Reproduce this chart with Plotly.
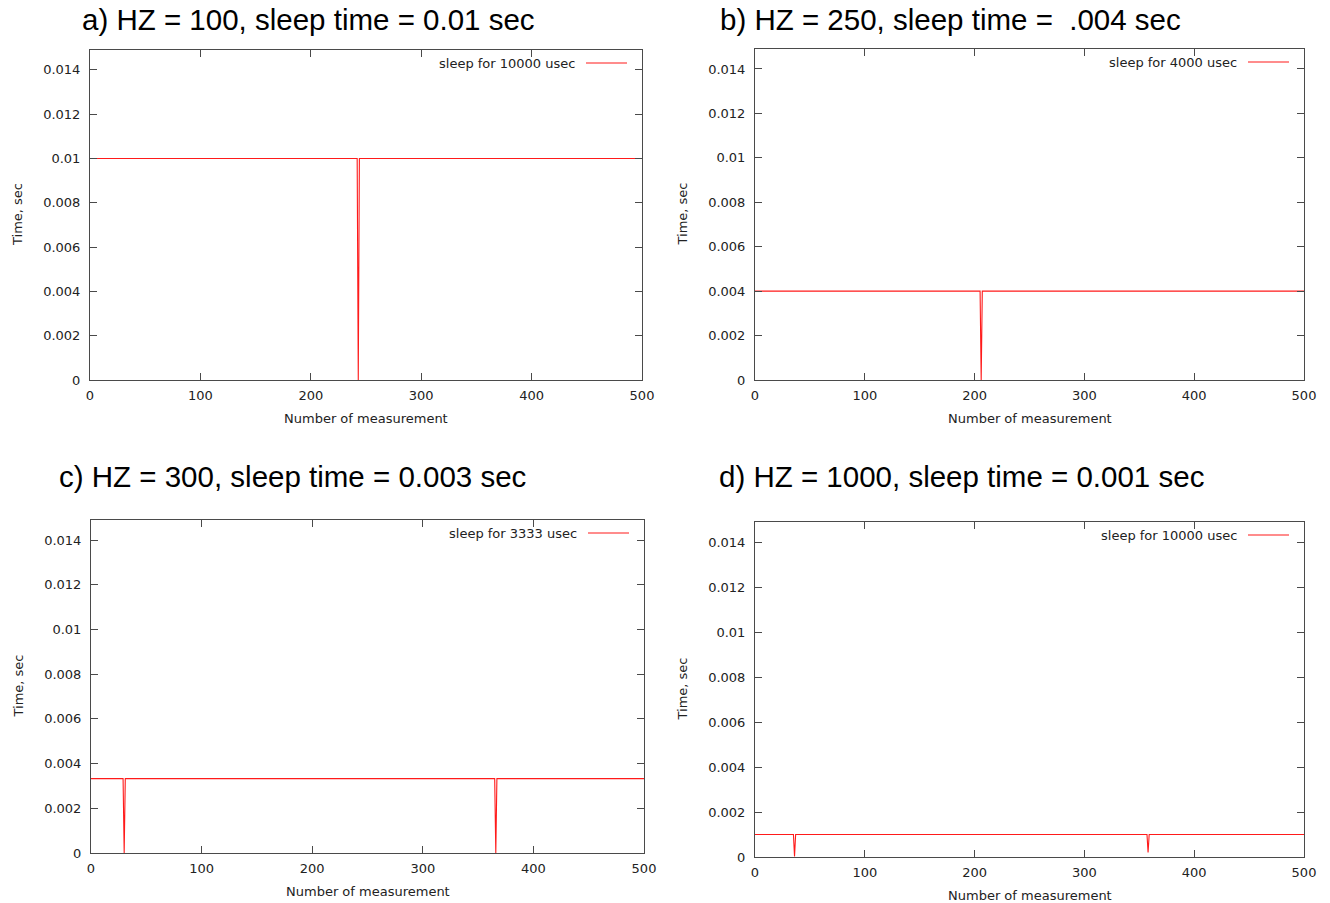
import plotly.graph_objects as go

W, H = 1330, 903

# ---- data (break points) ----
titles = ["a) HZ = 100, sleep time = 0.01 sec",
          "b) HZ = 250, sleep time =  .004 sec",
          "c) HZ = 300, sleep time = 0.003 sec",
          "d) HZ = 1000, sleep time = 0.001 sec"]
legend_names = ["sleep for 10000 usec", "sleep for 4000 usec",
                "sleep for 3333 usec", "sleep for 10000 usec"]

a_x = [0, 242, 243, 244, 500]
a_y = [0.01, 0.01, 0.0, 0.01, 0.01]
b_x = [0, 205, 206, 207, 500]
b_y = [0.004, 0.004, 0.0, 0.004, 0.004]
c_x = [0, 29, 30, 31, 365, 366, 367, 500]
c_y = [0.00333, 0.00333, 0.0, 0.00333, 0.00333, 0.0, 0.00333, 0.00333]
d_x = [0, 35, 36, 37, 357, 358, 359, 500]
d_y = [0.001, 0.001, 0.00002, 0.001, 0.001, 0.0002, 0.001, 0.001]

xticks = [0, 100, 200, 300, 400, 500]
yticks = [0, 0.002, 0.004, 0.006, 0.008, 0.01, 0.012, 0.014]
yticktext = ["0", "0.002", "0.004", "0.006", "0.008", "0.01", "0.012", "0.014"]
x_title = "Number of measurement"
y_title = "Time, sec"

series = [(a_x, a_y), (b_x, b_y), (c_x, c_y), (d_x, d_y)]

# ---- layout geometry (pixels) ----
# left, right, top, bottom of each plot box
boxes = [(90, 642, 50, 380), (755, 1304, 49, 380),
         (91, 644, 520, 853), (755, 1304, 522, 857)]
title_pos = [(80, 20), (718, 20), (57, 476), (717, 476)]

fig = go.Figure()
annotations = []
shapes = []
layout = dict(width=W, height=H, margin=dict(l=0, r=0, t=0, b=0, pad=0, autoexpand=False),
              paper_bgcolor="white", plot_bgcolor="white", showlegend=False)

tickfont = dict(family="DejaVu Sans", size=13, color="#222")
for i, ((xs, ys), (l, r, t, b)) in enumerate(zip(series, boxes)):
    n = "" if i == 0 else str(i + 1)
    xa = "xaxis" + n
    ya = "yaxis" + n
    fig.add_trace(go.Scatter(x=xs, y=ys, mode="lines",
                             line=dict(color="#ff1a1a", width=1.1),
                             name=legend_names[i],
                             xaxis="x" + n, yaxis="y" + n))
    axcommon = dict(showline=True, linecolor="#4a4a4a", linewidth=1, mirror="ticks",
                    ticks="inside", ticklen=7, tickwidth=1, tickcolor="#4a4a4a",
                    showgrid=False, zeroline=False, tickfont=tickfont,
                    automargin=False)
    layout[xa] = dict(domain=[l / W, r / W], range=[0, 500], anchor="y" + n,
                      tickvals=xticks, ticklabelstandoff=3, **axcommon)
    layout[ya] = dict(domain=[1 - b / H, 1 - t / H], range=[0, 0.0149], anchor="x" + n,
                      tickvals=yticks, ticktext=yticktext, ticklabelstandoff=6,
                      **axcommon)
    # titles
    tx, ty = title_pos[i]
    annotations.append(dict(text=titles[i], xref="paper", yref="paper",
                            x=tx / W, y=1 - ty / H, xanchor="left", yanchor="middle",
                            showarrow=False,
                            font=dict(family="Liberation Sans", size=29.5, color="black")))
    # axis titles
    annotations.append(dict(text=x_title, xref="paper", yref="paper",
                            x=(l + r) / 2 / W, y=1 - (b + 38) / H,
                            xanchor="center", yanchor="middle", showarrow=False,
                            font=dict(family="DejaVu Sans", size=13, color="#222")))
    annotations.append(dict(text=y_title, xref="paper", yref="paper",
                            x=(l - 73) / W, y=1 - (t + b) / 2 / H, textangle=-90,
                            xanchor="center", yanchor="middle", showarrow=False,
                            font=dict(family="DejaVu Sans", size=13, color="#222")))
    # key (text then sample line on the right, gnuplot style)
    ky = t + 13
    annotations.append(dict(text=legend_names[i], xref="paper", yref="paper",
                            x=(r - 65) / W, y=1 - ky / H, xanchor="right",
                            yanchor="middle", showarrow=False,
                            font=dict(family="DejaVu Sans", size=13, color="#222")))
    shapes.append(dict(type="line", xref="paper", yref="paper", layer="above",
                       x0=(r - 56) / W, x1=(r - 15) / W,
                       y0=1 - ky / H, y1=1 - ky / H,
                       line=dict(color="#ff1a1a", width=1.1)))

layout["annotations"] = annotations
layout["shapes"] = shapes
fig.update_layout(**layout)
fig.write_html("out.html")
